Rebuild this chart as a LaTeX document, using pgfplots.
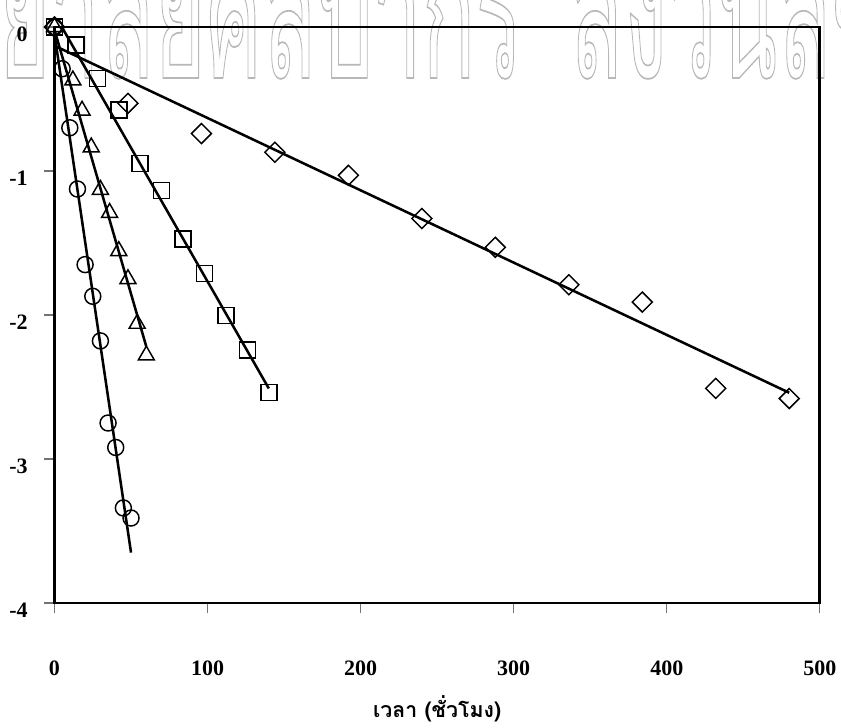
\documentclass[border=0pt]{standalone}
\usepackage{fontspec}
\setmainfont{Liberation Serif}
\newfontfamily\thaifont[Script=Thai]{Loma}
\usepackage{graphicx}
\usepackage{pgfplots}
\pgfplotsset{compat=1.18}

% outlined (stroked) text for the background stamp
\newcommand{\outlinetext}[1]{\special{pdf:literal direct 1 Tr 1.3 w}#1\special{pdf:literal direct 0 Tr}}

\begin{document}
\begin{tikzpicture}[x=1pt,y=1pt]
\useasboundingbox (-40.875,-93.0) rectangle (589.875,452.25);

% background stamp
\node[anchor=base east, inner sep=0, text=black!28] at (351.4,393.75)
  {\scalebox{0.48}[1]{\thaifont\fontsize{138}{138}\selectfont\outlinetext{มหาวิทยาลัยศิลปากร}}};
\node[anchor=base west, inner sep=0, text=black!28] at (386.6,393.75)
  {\scalebox{0.48}[1]{\thaifont\fontsize{138}{138}\selectfont\outlinetext{สงวนลิขสิทธิ์}}};

\begin{axis}[
  at={(0,0)}, anchor=south west,
  scale only axis, width=574pt, height=432pt,
  xmin=0, xmax=500, ymin=-4, ymax=0,
  axis line style={line width=2.2pt},
  tick align=outside, xtick pos=left, ytick pos=left,
  major tick length=7.5pt,
  tick style={black!55, line width=0.8pt},
  xtick={0,100,200,300,400,500},
  ytick={0,-1,-2,-3,-4},
  yticklabels={0,-1,-2,-3,-4},
  xticklabel style={font=\bfseries\fontsize{16.5}{16.5}\selectfont, inner sep=0, anchor=base, yshift=-46.9pt},
  yticklabel style={font=\bfseries\fontsize{16.5}{16.5}\selectfont, inner sep=0, anchor=north east, xshift=-12.4pt},
  /pgf/number format/assume math mode=true,
  xlabel={\thaifont\bfseries\fontsize{16}{16}\selectfont เวลา (ชั่วโมง)},
  xlabel style={at={(axis description cs:0.5,0)}, anchor=base, inner sep=0, yshift=-85.5pt},
  every axis plot/.append style={line width=1.9pt},
]

% measured points (hollow markers)
\addplot[only marks, mark=o, mark size=6pt, mark options={fill=white, draw=black, line width=1.1pt}]
  coordinates {(0,0)(5,-0.29)(10,-0.70)(15,-1.125)(20,-1.65)(25,-1.87)(30,-2.18)(35,-2.75)(40,-2.92)(45,-3.34)(50,-3.41)};
\addplot[only marks, mark=triangle, mark size=6.9pt, mark options={fill=white, draw=black, line width=1.1pt}]
  coordinates {(0,0)(12,-0.37)(18,-0.58)(24,-0.835)(30,-1.13)(36,-1.29)(42,-1.555)(48,-1.75)(54,-2.06)(60,-2.28)};
\addplot[only marks, mark=square, mark size=6pt, mark options={fill=white, draw=black, line width=1.1pt}]
  coordinates {(0,0)(14,-0.125)(28,-0.356)(42,-0.576)(56,-0.947)(70,-1.137)(84,-1.472)(98,-1.71)(112,-2.005)(126,-2.243)(140,-2.54)};
\addplot[only marks, mark=square, mark size=5.3pt, mark options={rotate=45, fill=white, draw=black, line width=1.1pt}]
  coordinates {(0,0)(48,-0.53)(96,-0.74)(144,-0.87)(192,-1.03)(240,-1.33)(288,-1.53)(336,-1.79)(384,-1.91)(432,-2.51)(480,-2.58)};

% fitted straight lines
\addplot[black, no marks] coordinates {(0,-0.05)(50,-3.65)};
\addplot[black, no marks] coordinates {(0,-0.02)(60,-2.22)};
\addplot[black, no marks] coordinates {(0,0.089)(140,-2.51)};
\addplot[black, no marks] coordinates {(0,-0.13)(480,-2.54)};
\end{axis}
\end{tikzpicture}
\end{document}
